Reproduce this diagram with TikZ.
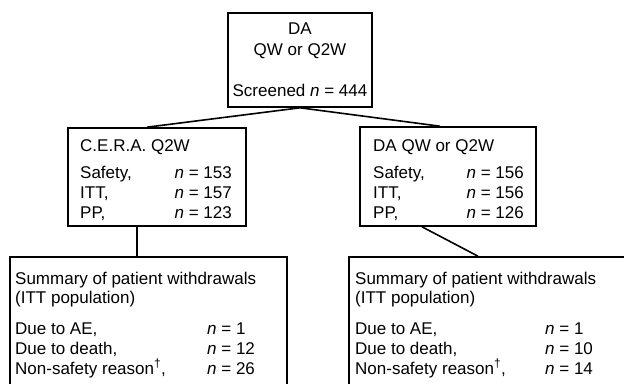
\documentclass[tikz,border=0pt]{standalone}
\usepackage{fontspec}
\setmainfont{Liberation Sans}
\begin{document}
\begin{tikzpicture}[x=1pt,y=-1pt,
  box/.style={draw=black, line width=1.6pt, inner sep=0pt, rectangle},
  link/.style={draw=black, line width=1.6pt},
  lab/.style={inner sep=0pt, font=\fontsize{17}{20}\selectfont},
  ]
\useasboundingbox (0,0) rectangle (624,383);
\clip (0,0) rectangle (624,383);
% boxes
\node[box, minimum width=144pt, minimum height=94pt] (top) at (300,60) {};
\node[box, minimum width=178pt, minimum height=98pt] (left) at (157,177) {};
\node[box, minimum width=176pt, minimum height=99pt] (right) at (448,176.5) {};
\node[box, minimum width=277pt, minimum height=200pt] (bl) at (148.5,357) {};
\node[box, minimum width=300pt, minimum height=200pt] (br) at (499,357) {};
% connectors
\draw[link] (top.south) -- ([xshift=-10pt]left.north);
\draw[link] (top.south) -- ([xshift=-8pt]right.north);
\draw[link] ([xshift=-20pt]left.south) -- ([xshift=-11.5pt]bl.north);
\draw[link] ([xshift=-26pt]right.south) -- ([xshift=-21pt]br.north);
% top text
\node[lab, anchor=base] (t1) at (300,34) {DA};
\node[lab, anchor=base] (t2) at (300,55) {QW or Q2W};
\node[lab, anchor=base] (t3) at (300,96) {Screened \textit{n} = 444};
% left mid text
\node[lab, anchor=base west] (l0) at (80,151) {C.E.R.A. Q2W};
\node[lab, anchor=base west] (l1) at (80,178) {Safety,};
\node[lab, anchor=base west] (l2) at (80,198) {ITT,};
\node[lab, anchor=base west] (l3) at (80,218) {PP,};
\node[lab, anchor=base east] (l1n) at (232,178) {\textit{n} = 153};
\node[lab, anchor=base east] (l2n) at (232,198) {\textit{n} = 157};
\node[lab, anchor=base east] (l3n) at (232,218) {\textit{n} = 123};
% right mid text
\node[lab, anchor=base west] (r0) at (373,151) {DA QW or Q2W};
\node[lab, anchor=base west] (r1) at (373,178) {Safety,};
\node[lab, anchor=base west] (r2) at (373,198) {ITT,};
\node[lab, anchor=base west] (r3) at (373,218) {PP,};
\node[lab, anchor=base east] (r1n) at (524,178) {\textit{n} = 156};
\node[lab, anchor=base east] (r2n) at (524,198) {\textit{n} = 156};
\node[lab, anchor=base east] (r3n) at (524,218) {\textit{n} = 126};
% bottom left text
\node[lab, anchor=base west] (b0) at (15,284) {Summary of patient withdrawals};
\node[lab, anchor=base west] (b1) at (15,303) {(ITT population)};
\node[lab, anchor=base west] (b2) at (15,334) {Due to AE,};
\node[lab, anchor=base west] (b3) at (15,354) {Due to death,};
\node[lab, anchor=base west] (b4) at (15,374) {Non-safety reason\textsuperscript{†},};
\node[lab, anchor=base west] (b2n) at (207,334) {\textit{n} = 1};
\node[lab, anchor=base west] (b3n) at (207,354) {\textit{n} = 12};
\node[lab, anchor=base west] (b4n) at (207,374) {\textit{n} = 26};
% bottom right text
\node[lab, anchor=base west] (c0) at (355,284) {Summary of patient withdrawals};
\node[lab, anchor=base west] (c1) at (355,303) {(ITT population)};
\node[lab, anchor=base west] (c2) at (355,334) {Due to AE,};
\node[lab, anchor=base west] (c3) at (355,354) {Due to death,};
\node[lab, anchor=base west] (c4) at (355,374) {Non-safety reason\textsuperscript{†},};
\node[lab, anchor=base west] (c2n) at (545,334) {\textit{n} = 1};
\node[lab, anchor=base west] (c3n) at (545,354) {\textit{n} = 10};
\node[lab, anchor=base west] (c4n) at (545,374) {\textit{n} = 14};
\end{tikzpicture}
\end{document}
